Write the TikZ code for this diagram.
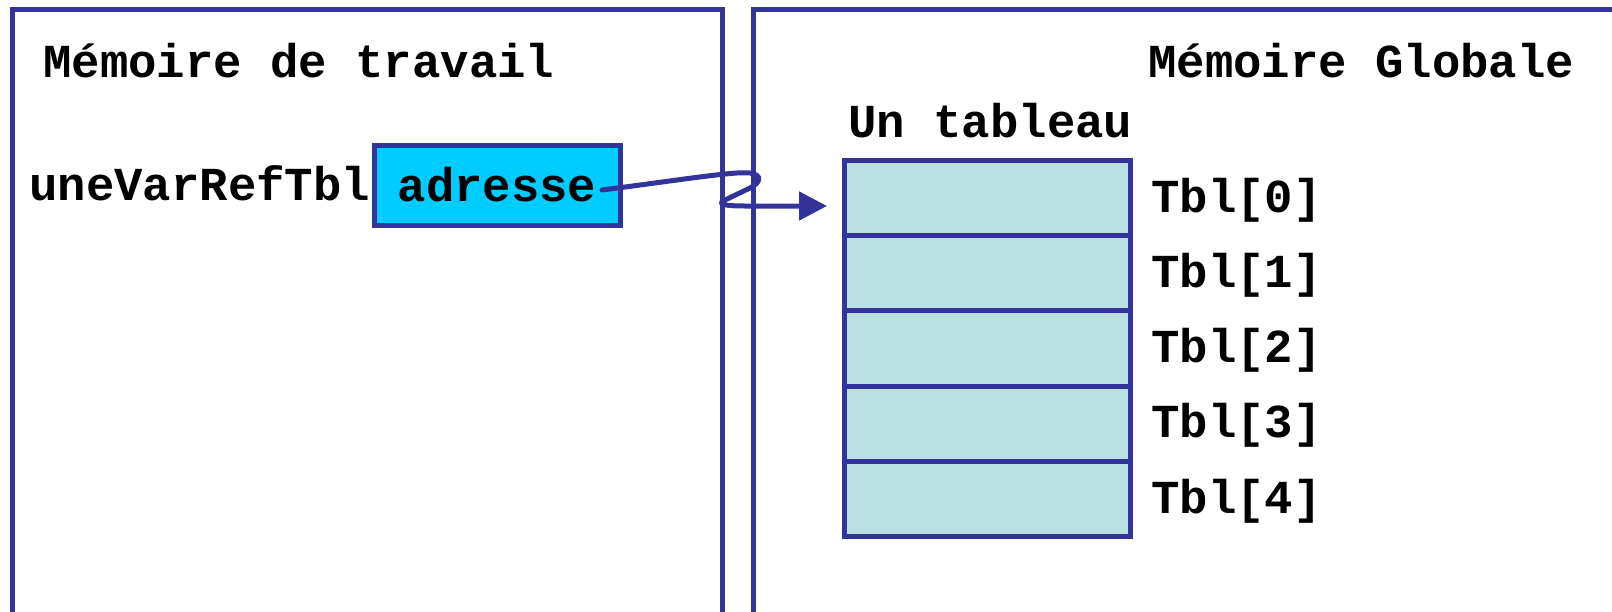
\documentclass[tikz,border=0pt]{standalone}
\usepackage{fontspec}
\setmonofont{Liberation Mono}
\usetikzlibrary{arrows.meta,calc}
\definecolor{frame}{RGB}{51,51,153}
\definecolor{cellfill}{RGB}{187,224,227}
\definecolor{reffill}{RGB}{0,204,255}
\tikzset{
  lbl/.style={inner sep=0pt, anchor=base west,
    font=\fontsize{23.65}{28}\selectfont\ttfamily\bfseries},
  panel/.style={draw=frame, line width=2.5pt},
  cell/.style={draw=frame, fill=cellfill, line width=2.5pt, inner sep=0pt,
    minimum width=143pt, minimum height=37.65pt},
  refbox/.style={draw=frame, fill=reffill, line width=2.5pt, inner sep=0pt,
    minimum width=123pt, minimum height=40pt,
    font=\fontsize{23.65}{28}\selectfont\ttfamily\bfseries},
  conn/.style={draw=frame, line width=2.5pt, line cap=round, line join=round,
    -{Triangle[length=14pt,width=14pt]}}
}
\begin{document}
\begin{tikzpicture}[x=0.5pt,y=-0.5pt]
\useasboundingbox (0,0) rectangle (1612,611);
\clip (0,0) rectangle (1612,611);

% the two memory areas, open at the bottom and on the right
\draw[panel] (12.5,640) -- (12.5,9.5) -- (722.5,9.5) -- (722.5,640);
\draw[panel] (753.5,640) -- (753.5,9.5) -- (1640,9.5);

% titles
\node[lbl] (ttrav) at (43,77) {Mémoire de travail};
\node[lbl] (tglob) at (1148,77) {Mémoire Globale};
\node[lbl] (ttab) at (848,137) {Un tableau};

% the reference variable
\node[lbl] (vname) at (29,200) {uneVarRefTbl};
\node[refbox] (adr) at (497,185) {adresse};

% the array cells and their labels
\foreach \i in {0,...,4} {
  \node[cell] (cell\i) at (987.5,{198+75.3*\i}) {};
  \node[lbl] (tbl\i) at (1151,{212+75.3*\i}) {Tbl[\i]};
}

% the reference pointing to the first cell
\coordinate (src) at (602,190);
\coordinate (tgt) at (827,206);
\draw[conn] (src) .. controls (680,180) and (735,171) .. (750,173)
  .. controls (763,175) and (761,183) .. (748,189) -- (725,200)
  .. controls (716,204) and (724,206) .. (745,206) -- (tgt);
\end{tikzpicture}
\end{document}
